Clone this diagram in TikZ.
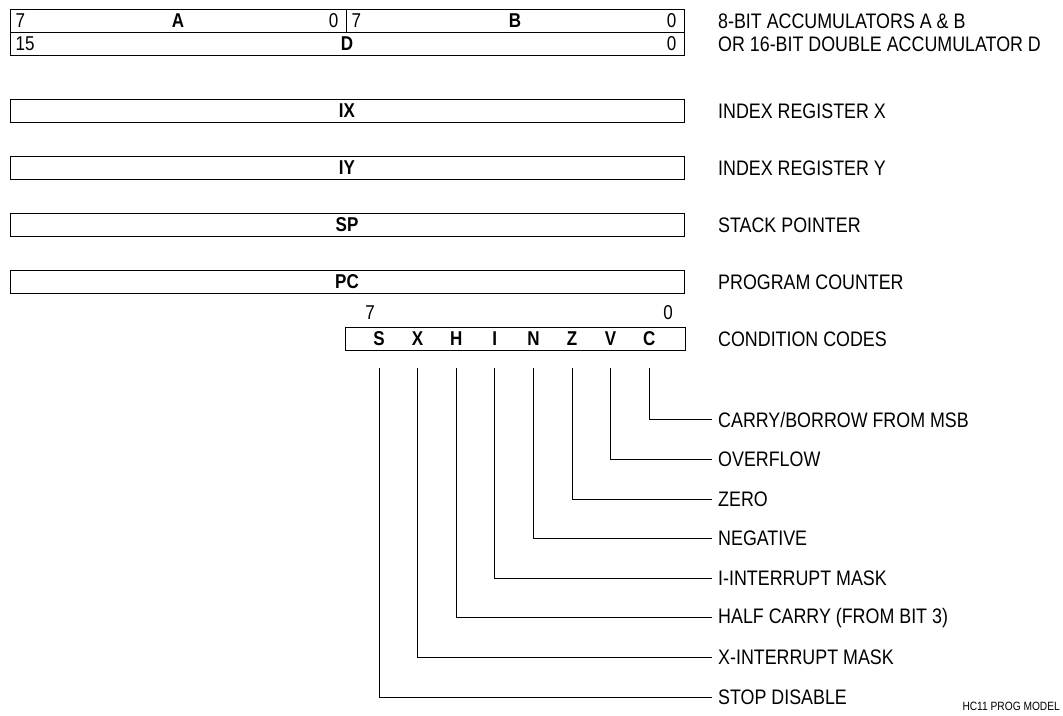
\documentclass[tikz,border=0pt]{standalone}
\usepackage{fontspec}
\setmainfont{Liberation Sans}[FakeStretch=0.85]
\usepackage{tikz}
\usetikzlibrary{positioning,calc}
\tikzset{
  regbox/.style={draw,line width=1pt,minimum height=23pt,inner sep=0pt},
  bitno/.style={font=\fontsize{20}{22}\selectfont,inner sep=0pt},
  regname/.style={font=\fontsize{20}{22}\selectfont\bfseries,inner sep=0pt},
  desc/.style={font=\fontsize{21}{23}\selectfont,anchor=west,inner sep=0pt},
  wire/.style={line width=1pt},
}

\begin{document}
\begin{tikzpicture}[x=1pt,y=-1pt]
  \useasboundingbox (0,0) rectangle (1063,715);
  % accumulators
  \node[regbox,minimum width=336pt] (accA) at (178,21) {};
  \node[regbox,minimum width=338pt] (accB) at (515,21) {};
  \node[regbox,minimum width=674pt] (accD) at (347,44) {};
  \node[bitno,anchor=west] (a7) at ($(accA.west)+(6,0)$) {7};
  \node[regname] (aname) at (accA.center) {A};
  \node[bitno,anchor=east] (a0) at ($(accA.east)+(-8,0)$) {0};
  \node[bitno,anchor=west] (b7) at ($(accB.west)+(6,0)$) {7};
  \node[regname] (bname) at (accB.center) {B};
  \node[bitno,anchor=east] (b0) at ($(accB.east)+(-8,0)$) {0};
  \node[bitno,anchor=west] (d15) at ($(accD.west)+(6,0)$) {15};
  \node[regname] (dname) at (accD.center) {D};
  \node[bitno,anchor=east] (d0) at ($(accD.east)+(-8,0)$) {0};
  \node[desc] (accdesc) at (718,21) {8-BIT ACCUMULATORS A \& B};
  \node[desc] (ddesc) at (718,44) {OR 16-BIT DOUBLE ACCUMULATOR D};
  % 16-bit registers
  \foreach \nm/\yy/\txt in {ix/111/INDEX REGISTER X,iy/168/INDEX REGISTER Y,sp/225/STACK POINTER,pc/282/PROGRAM COUNTER} {
    \node[regbox,minimum width=674pt] (\nm) at (347,\yy) {};
    \node[regname] (\nm name) at (\nm.center) {\MakeUppercase{\nm}};
    \node[desc] (\nm desc) at (718,\yy) {\txt};
  }
  % condition codes
  \node[regbox,minimum width=340pt] (ccr) at (515,339) {};
  \node[bitno] (c7) at (370,313) {7};
  \node[bitno] (c0) at (668,313) {0};
  \node[desc] (ccrdesc) at (718,339) {CONDITION CODES};
  \coordinate (tap) at ($(ccr.south)+(0,17)$);
  \foreach \fl/\i/\txt in {S/0/STOP DISABLE,X/1/X-INTERRUPT MASK,H/2/HALF CARRY (FROM BIT 3),I/3/I-INTERRUPT MASK,N/4/NEGATIVE,Z/5/ZERO,V/6/OVERFLOW,C/7/{CARRY/BORROW FROM MSB}} {
    \node[regname] (f\fl) at (379+38.6*\i,339) {\fl};
    \node[desc] (d\fl) at (718,697-39.6*\i) {\txt};
    \draw[wire] (f\fl |- tap) |- ($(d\fl.west)+(-6,0)$);
  }
  \node[font=\fontsize{12}{13}\selectfont,anchor=east,inner sep=0pt] (tag) at (1060,706) {HC11 PROG MODEL};
\end{tikzpicture}
\end{document}
